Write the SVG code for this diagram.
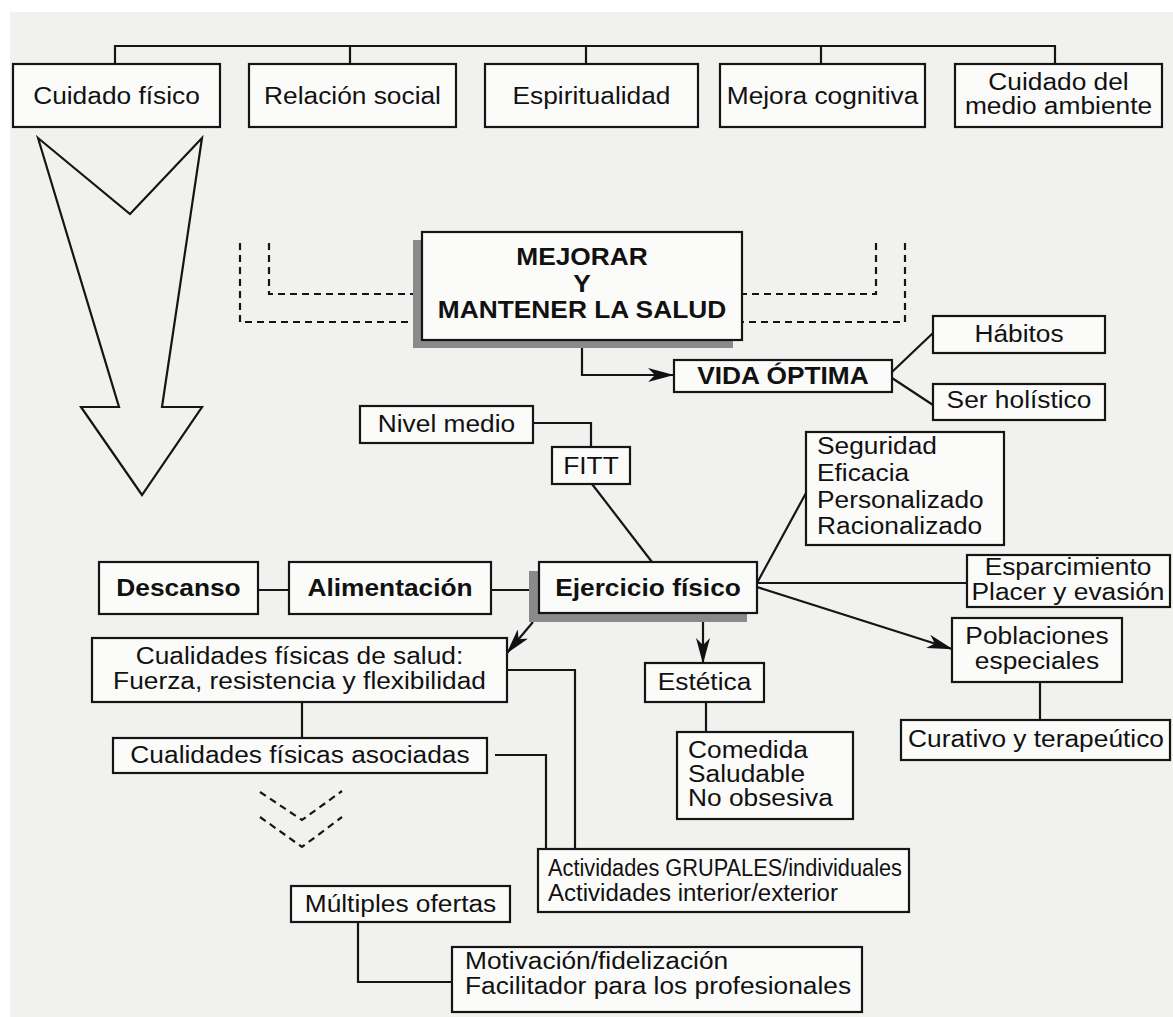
<svg xmlns="http://www.w3.org/2000/svg" width="1173" height="1017" viewBox="0 0 1173 1017">
<style>
.bg{fill:#f1f1ef}
.box{fill:#fbfbfa;stroke:#151515;stroke-width:2.2}
.sh{fill:#8a8a8a}
.t{font-family:"Liberation Sans",Arial,Helvetica,sans-serif;font-size:23.5px;fill:#111}
.b{font-weight:bold}
.ln{fill:none;stroke:#151515;stroke-width:2.2}
.da{stroke-dasharray:7 5}
</style>
<defs>
<marker id="ah" viewBox="0 0 26 14" refX="25" refY="7" markerWidth="26" markerHeight="14" markerUnits="userSpaceOnUse" orient="auto">
<path d="M0,0 L26,7 L0,14 L7,7 z" fill="#111"/>
</marker>
</defs>
<rect width="1173" height="1017" fill="#ffffff"/>
<rect class="bg" x="10" y="12" width="1163" height="1005"/>

<g id="big-arrow">
<polygon class="ln" points="38,138 130,214 202,138 162,407 202,407 142,495 81,407 119,407"/>
</g>

<g id="connectors">
<path class="ln" d="M115,64 V46 H1055 V64 M350,46 V64 M586,46 V64 M821,46 V64"/>
<path class="ln da" d="M240,243 V322 H414 M269,243 V294 H414 M905,243 V322 H742 M876,243 V294 H742"/>
<path class="ln" d="M582,340 V375 H673" marker-end="url(#ah)"/>
<path class="ln" d="M892,372 L933,333 M892,378 L933,405"/>
<path class="ln" d="M533,423 H591 V447"/>
<path class="ln" d="M592,484 L652,562"/>
<path class="ln" d="M258,590 H289 M491,590 H530"/>
<path class="ln" d="M533,622 L507,653" marker-end="url(#ah)"/>
<path class="ln" d="M703,613 V663" marker-end="url(#ah)"/>
<path class="ln" d="M706,702 V732"/>
<path class="ln" d="M757,583 L806,493 M757,583 H967"/>
<path class="ln" d="M757,587 L952,649" marker-end="url(#ah)"/>
<path class="ln" d="M1040,682 V720"/>
<path class="ln" d="M302,702 V738"/>
<path class="ln" d="M507,670 H575 V849 M495,755 H546 V849"/>
<path class="ln da" d="M260,792 L302,820 L342,791 M260,817 L302,847 L342,817"/>
<path class="ln" d="M358,922 V982 H452"/>
</g>

<g id="cuidado-fisico"><rect class="box" x="13" y="64" width="207" height="63"/>
<text class="t" text-anchor="middle" transform="translate(116.5 104) scale(1.12 1)">Cuidado físico</text></g>
<g id="relacion-social"><rect class="box" x="249" y="64" width="207" height="63"/>
<text class="t" text-anchor="middle" transform="translate(352.5 104) scale(1.12 1)">Relación social</text></g>
<g id="espiritualidad"><rect class="box" x="485" y="64" width="213" height="63"/>
<text class="t" text-anchor="middle" transform="translate(591.5 104) scale(1.12 1)">Espiritualidad</text></g>
<g id="mejora-cognitiva"><rect class="box" x="720" y="64" width="205" height="63"/>
<text class="t" text-anchor="middle" transform="translate(822.5 104) scale(1.12 1)">Mejora cognitiva</text></g>
<g id="medio-ambiente"><rect class="box" x="955" y="64" width="207" height="63"/>
<text class="t" text-anchor="middle" transform="translate(1058.5 90) scale(1.12 1)"><tspan x="0" y="0">Cuidado del</tspan><tspan x="0" y="24">medio ambiente</tspan></text></g>

<g id="mejorar"><rect class="sh" x="413" y="240" width="320" height="108"/>
<rect class="box" x="422" y="232" width="320" height="108"/>
<text class="t b" text-anchor="middle" transform="translate(582 265) scale(1.12 1)"><tspan x="0" y="0">MEJORAR</tspan><tspan x="0" y="27">Y</tspan><tspan x="0" y="53">MANTENER LA SALUD</tspan></text></g>

<g id="vida-optima"><rect class="box" x="674" y="360" width="218" height="32"/>
<text class="t b" text-anchor="middle" transform="translate(783 384) scale(1.12 1)">VIDA ÓPTIMA</text></g>
<g id="habitos"><rect class="box" x="933" y="316" width="172" height="37"/>
<text class="t" text-anchor="middle" transform="translate(1019 342) scale(1.12 1)">Hábitos</text></g>
<g id="ser-holistico"><rect class="box" x="933" y="384" width="172" height="36"/>
<text class="t" text-anchor="middle" transform="translate(1019 408) scale(1.12 1)">Ser holístico</text></g>

<g id="nivel-medio"><rect class="box" x="360" y="406" width="173" height="37"/>
<text class="t" text-anchor="middle" transform="translate(446.5 432) scale(1.12 1)">Nivel medio</text></g>
<g id="fitt"><rect class="box" x="552" y="447" width="78" height="37"/>
<text class="t" text-anchor="middle" transform="translate(591 474) scale(1.12 1)">FITT</text></g>

<g id="seguridad"><rect class="box" x="806" y="432" width="198" height="113"/>
<text class="t" transform="translate(817 454) scale(1.12 1)"><tspan x="0" y="0">Seguridad</tspan><tspan x="0" y="27">Eficacia</tspan><tspan x="0" y="54">Personalizado</tspan><tspan x="0" y="80">Racionalizado</tspan></text></g>

<g id="descanso"><rect class="box" x="99" y="562" width="159" height="52"/>
<text class="t b" text-anchor="middle" transform="translate(178.5 596) scale(1.12 1)">Descanso</text></g>
<g id="alimentacion"><rect class="box" x="289" y="562" width="202" height="52"/>
<text class="t b" text-anchor="middle" transform="translate(390 596) scale(1.12 1)">Alimentación</text></g>
<g id="ejercicio-fisico"><rect class="sh" x="529" y="571" width="218" height="51"/>
<rect class="box" x="539" y="562" width="218" height="51"/>
<text class="t b" text-anchor="middle" transform="translate(648 596) scale(1.12 1)">Ejercicio físico</text></g>

<g id="esparcimiento"><rect class="box" x="967" y="555" width="203" height="52"/>
<text class="t" text-anchor="middle" transform="translate(1068 575) scale(1.12 1)"><tspan x="0" y="0">Esparcimiento</tspan><tspan x="0" y="25">Placer y evasión</tspan></text></g>
<g id="poblaciones"><rect class="box" x="952" y="618" width="170" height="64"/>
<text class="t" text-anchor="middle" transform="translate(1037 644) scale(1.12 1)"><tspan x="0" y="0">Poblaciones</tspan><tspan x="0" y="25">especiales</tspan></text></g>
<g id="curativo"><rect class="box" x="901" y="720" width="269" height="40"/>
<text class="t" text-anchor="middle" transform="translate(1036 747) scale(1.12 1)">Curativo y terapeútico</text></g>

<g id="estetica"><rect class="box" x="645" y="663" width="119" height="39"/>
<text class="t" text-anchor="middle" transform="translate(704.5 690) scale(1.12 1)">Estética</text></g>
<g id="comedida"><rect class="box" x="677" y="732" width="176" height="87"/>
<text class="t" transform="translate(688 758) scale(1.12 1)"><tspan x="0" y="0">Comedida</tspan><tspan x="0" y="24">Saludable</tspan><tspan x="0" y="48">No obsesiva</tspan></text></g>

<g id="cualidades-salud"><rect class="box" x="92" y="638" width="415" height="64"/>
<text class="t" text-anchor="middle" transform="translate(299.5 664) scale(1.12 1)"><tspan x="0" y="0">Cualidades físicas de salud:</tspan><tspan x="0" y="25">Fuerza, resistencia y flexibilidad</tspan></text></g>
<g id="cualidades-asociadas"><rect class="box" x="113" y="738" width="374" height="35"/>
<text class="t" text-anchor="middle" transform="translate(300 763) scale(1.12 1)">Cualidades físicas asociadas</text></g>

<g id="actividades"><rect class="box" x="538" y="849" width="371" height="63"/>
<text class="t" x="548" y="876" textLength="354" lengthAdjust="spacingAndGlyphs">Actividades GRUPALES/individuales</text>
<text class="t" x="548" y="901" textLength="290" lengthAdjust="spacingAndGlyphs">Actividades interior/exterior</text></g>

<g id="multiples-ofertas"><rect class="box" x="291" y="886" width="219" height="36"/>
<text class="t" text-anchor="middle" transform="translate(400.5 912) scale(1.12 1)">Múltiples ofertas</text></g>
<g id="motivacion"><rect class="box" x="452" y="947" width="410" height="65"/>
<text class="t" transform="translate(465 969) scale(1.12 1)"><tspan x="0" y="0">Motivación/fidelización</tspan><tspan x="0" y="25">Facilitador para los profesionales</tspan></text></g>
</svg>
